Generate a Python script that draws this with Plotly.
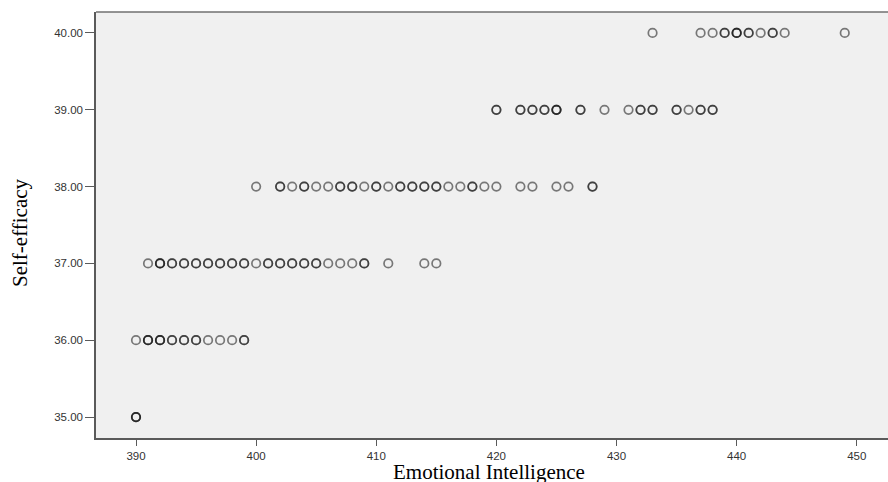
import plotly.graph_objects as go

# Emotional Intelligence scores (x) for each Self-efficacy level, with count of overlapping cases
row40_x = [433, 437, 438, 439, 440, 441, 442, 443, 444, 449]
row40_n = [1, 1, 1, 2, 3, 2, 1, 2, 1, 1]

row39_x = [420, 422, 423, 424, 425, 427, 429, 431, 432, 433, 435, 436, 437, 438]
row39_n = [2, 2, 2, 2, 3, 2, 1, 1, 2, 2, 2, 1, 2, 2]

row38_x = [400, 402, 403, 404, 405, 406, 407, 408, 409, 410, 411, 412, 413, 414, 415,
           416, 417, 418, 419, 420, 422, 423, 425, 426, 428]
row38_n = [1, 2, 1, 2, 1, 1, 2, 2, 1, 2, 1, 2, 2, 2, 2,
           1, 1, 2, 1, 1, 1, 1, 1, 1, 2]

row37_x = [391, 392, 393, 394, 395, 396, 397, 398, 399, 400, 401, 402, 403, 404, 405,
           406, 407, 408, 409, 411, 414, 415]
row37_n = [1, 3, 2, 2, 2, 2, 2, 2, 2, 1, 2, 2, 2, 2, 2,
           1, 1, 1, 2, 1, 1, 1]

row36_x = [390, 391, 392, 393, 394, 395, 396, 397, 398, 399]
row36_n = [1, 3, 3, 2, 2, 2, 1, 1, 1, 2]

row35_x = [390]
row35_n = [3]

rows = [(40, row40_x, row40_n), (39, row39_x, row39_n), (38, row38_x, row38_n),
        (37, row37_x, row37_n), (36, row36_x, row36_n), (35, row35_x, row35_n)]

x_ticks = [390, 400, 410, 420, 430, 440, 450]
y_ticks = [35, 36, 37, 38, 39, 40]
y_tick_labels = ["35.00", "36.00", "37.00", "38.00", "39.00", "40.00"]

xs, ys = [], []
for yv, xl, nl in rows:
    for xv, n in zip(xl, nl):
        for _ in range(n):
            xs.append(xv)
            ys.append(yv)

fig = go.Figure()
fig.add_trace(go.Scatter(
    x=xs, y=ys, mode="markers",
    marker=dict(symbol="circle-open", size=8.5, color="rgba(20,20,20,0.55)",
                line=dict(width=1.7)),
    showlegend=False, hoverinfo="x+y",
))

axis_font = dict(family="Liberation Sans, Arial, sans-serif", size=11.5, color="#333333")

fig.update_layout(
    width=888, height=482,
    margin=dict(l=96, r=0, t=12, b=44),
    paper_bgcolor="white",
    plot_bgcolor="#f0f0f0",
    xaxis=dict(range=[386.67, 452.6], tickvals=x_ticks, ticktext=[str(v) for v in x_ticks],
               showgrid=False, zeroline=False, showline=True, linecolor="#5a5a5a",
               linewidth=1.5, ticks="outside", ticklen=6, tickcolor="#5a5a5a",
               tickwidth=1.2, tickfont=axis_font),
    yaxis=dict(range=[34.727, 40.273], tickvals=y_ticks, ticktext=y_tick_labels,
               showgrid=False, zeroline=False, showline=True, linecolor="#5a5a5a",
               linewidth=1.5, ticks="outside", ticklen=9, tickcolor="#5a5a5a",
               tickwidth=1.2, tickfont=axis_font),
    shapes=[dict(type="line", xref="paper", yref="paper", x0=0, x1=1, y0=1, y1=1,
                 line=dict(color="#707070", width=1.5))],
    annotations=[
        dict(text="Emotional Intelligence", xref="paper", yref="paper", x=0.5, y=0,
             xanchor="center", yanchor="top", yshift=-20, xshift=-3, showarrow=False,
             font=dict(family="Liberation Serif, Times New Roman, serif", size=21, color="#000000")),
        dict(text="Self-efficacy", xref="paper", yref="paper", x=0, y=0.5,
             xanchor="center", yanchor="middle", xshift=-76, yshift=-8, textangle=-90,
             showarrow=False,
             font=dict(family="Liberation Serif, Times New Roman, serif", size=21, color="#000000")),
    ],
)

fig.write_html("out.html", config={"displayModeBar": False},
               post_script="document.body.style.margin='0';document.body.style.overflow='hidden';")
